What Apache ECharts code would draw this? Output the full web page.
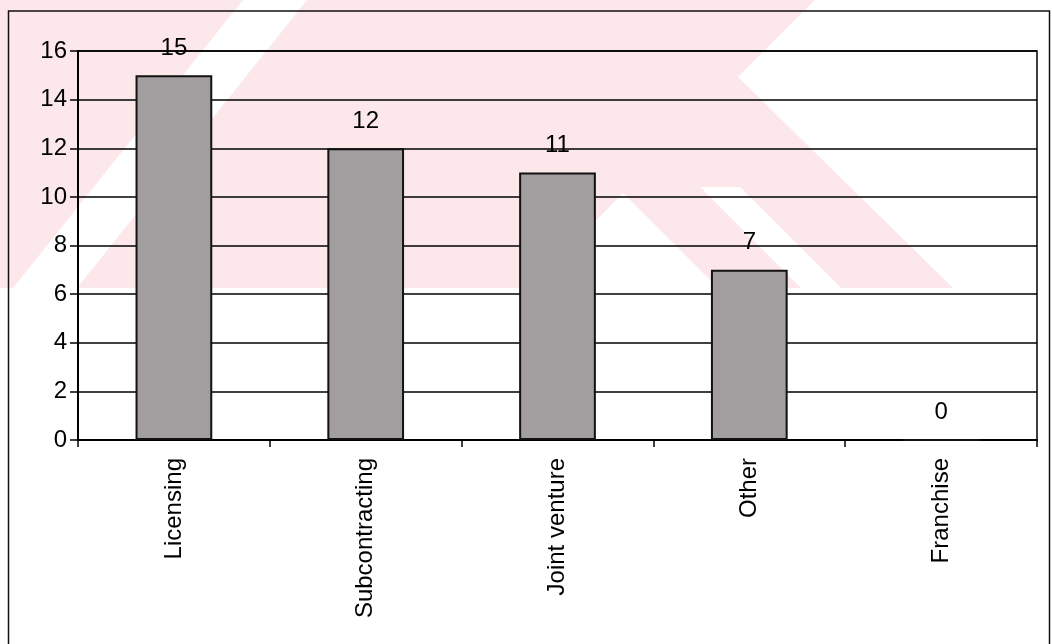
<!DOCTYPE html>
<html>
<head>
<meta charset="utf-8">
<script src="https://cdn.jsdelivr.net/npm/echarts@6/dist/echarts.min.js"></script>
<style>
  html, body { margin: 0; padding: 0; background: #fff; }
  #main { width: 1052px; height: 644px; }
</style>
</head>
<body>
<div id="main"></div>
<script>
// data
var categories = ['Licensing', 'Subcontracting', 'Joint venture', 'Other', 'Franchise'];
var counts = [15, 12, 11, 7, 0];
var yMin = 0, yMax = 16, yStep = 2;

var FONT = 'Arial, "Liberation Sans", sans-serif';
var pink = '#fce7eb';

var myChart = echarts.init(document.getElementById('main'));

// watermark of the scanned page (light pink stripes behind the chart)
var watermark = [
    { type: 'polygon', z: -20, shape: { points: [[0, 0], [815, 0], [738, 77], [953, 288], [0, 288]] }, style: { fill: pink } },
    { type: 'polygon', z: -19, shape: { points: [[13, 288], [77, 288], [307, 0], [243, 0]] }, style: { fill: '#fff' } },
    { type: 'polygon', z: -19, shape: { points: [[623, 193], [718, 288], [530, 288]] }, style: { fill: '#fff' } },
    { type: 'polygon', z: -19, shape: { points: [[700, 187], [740, 187], [841, 288], [801, 288]] }, style: { fill: '#fff' } }
];

var option = {
    backgroundColor: '#fff',
    animation: false,
    textStyle: { fontFamily: FONT },
    grid: {
        left: 78,
        right: 15,
        top: 51,
        bottom: 204,
        show: true,
        borderColor: '#000',
        borderWidth: 1.5,
        backgroundColor: 'transparent'
    },
    graphic: watermark.concat([
        {
            type: 'rect', z: 10, silent: true,
            shape: { x: 8.5, y: 11, width: 1041, height: 660 },
            style: { fill: 'none', stroke: '#111', lineWidth: 1.5 }
        }
    ]),
    xAxis: {
        type: 'category',
        data: categories,
        axisLine: { lineStyle: { color: '#000', width: 2 } },
        axisTick: { show: true, length: 7, lineStyle: { color: '#000', width: 1.5 } },
        axisLabel: {
            rotate: 90,
            margin: 18,
            color: '#000',
            fontSize: 24,
            fontFamily: FONT
        },
        splitLine: { show: false }
    },
    yAxis: {
        type: 'value',
        min: yMin,
        max: yMax,
        interval: yStep,
        axisLine: { show: true, lineStyle: { color: '#000', width: 2 } },
        axisTick: { show: true, length: 8, lineStyle: { color: '#000', width: 1.5 } },
        axisLabel: {
            margin: 11,
            color: '#000',
            fontSize: 24,
            fontFamily: FONT
        },
        splitLine: { show: true, lineStyle: { color: '#000', width: 1.5 } }
    },
    series: [{
        type: 'bar',
        data: counts,
        barWidth: '40%',
        itemStyle: {
            color: '#a29d9e',
            borderColor: '#111',
            borderWidth: 2
        },
        label: {
            show: true,
            position: 'top',
            distance: 15,
            color: '#000',
            fontSize: 24,
            fontFamily: FONT
        }
    }]
};
myChart.setOption(option);
</script>
</body>
</html>
